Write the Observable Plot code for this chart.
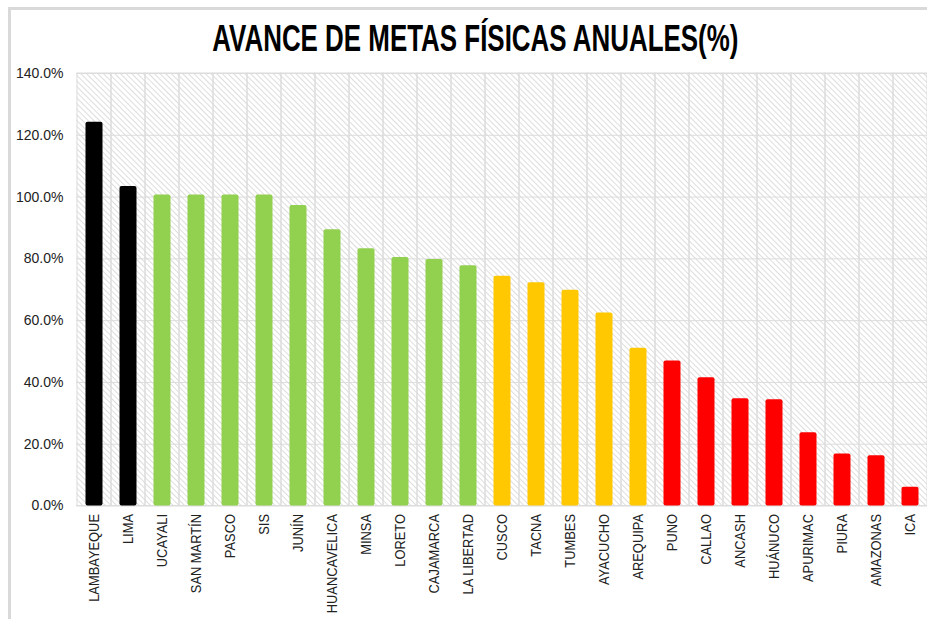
<!DOCTYPE html>
<html>
<head>
<meta charset="utf-8">
<script src="https://cdn.jsdelivr.net/npm/d3@7"></script>
<script src="https://cdn.jsdelivr.net/npm/@observablehq/plot@0.6"></script>
<style>
  html, body { margin: 0; padding: 0; background: #fff; }
  #wrap { position: relative; width: 927px; height: 619px; overflow: hidden; background: #fff; }
  #frame { position: absolute; left: 8px; top: 7px; width: 940px; height: 640px;
           border-left: 3px solid #d9d9d9; border-top: 3px solid #d9d9d9; box-sizing: border-box; }
  #title { position: absolute; left: 0; top: 0; width: 951px; height: 60px; line-height: 78px;
           text-align: center; font-family: "Liberation Sans Narrow", "Arial Narrow", "Liberation Sans", sans-serif;
           font-weight: bold; font-size: 36px; color: #000; white-space: nowrap; }
  #title span { display: inline-block; transform: scaleX(0.72); transform-origin: 50% 50%; }
  #chart { position: absolute; left: 0; top: 60px; }
</style>
</head>
<body>
<div id="wrap">
  <div id="frame"></div>
  <div id="title"><span>AVANCE DE METAS FÍSICAS ANUALES(%)</span></div>
  <div id="chart"></div>
</div>
<script>
const categories = ["LAMBAYEQUE","LIMA","UCAYALI","SAN MARTÍN","PASCO","SIS","JUNÍN","HUANCAVELICA","MINSA","LORETO","CAJAMARCA","LA LIBERTAD","CUSCO","TACNA","TUMBES","AYACUCHO","AREQUIPA","PUNO","CALLAO","ANCASH","HUÁNUCO","APURIMAC","PIURA","AMAZONAS","ICA"];
const values = [124.2,103.4,100.7,100.7,100.7,100.7,97.3,89.4,83.3,80.4,79.8,77.8,74.4,72.3,69.8,62.5,51.1,46.9,41.5,34.7,34.4,23.7,16.8,16.3,6.1];
const groups = ["black","black","green","green","green","green","green","green","green","green","green","green","yellow","yellow","yellow","yellow","yellow","red","red","red","red","red","red","red","red"];
const groupColors = {black: "#000000", green: "#92D050", yellow: "#FFC800", red: "#FF0000"};
const yTicks = [0,20,40,60,80,100,120,140];

const data = categories.map((c, i) => ({cat: c, value: values[i], group: groups[i]}));
const narrow = '"Liberation Sans Narrow", "Arial Narrow", "Liberation Sans", sans-serif';

const plot = Plot.plot({
  width: 927,
  height: 559,
  marginLeft: 76,
  marginRight: 0,
  marginTop: 13,
  marginBottom: 113.5,
  style: {fontFamily: narrow, fontSize: "14px", color: "#222", background: "transparent", overflow: "visible"},
  x: {domain: categories, padding: 0, label: null, axis: null},
  y: {domain: [0, 140], label: null, axis: null},
  marks: [
    Plot.frame({fill: "url(#hatch)", stroke: "none"}),
    Plot.ruleY(yTicks, {stroke: "#dcdcdc", strokeWidth: 1}),
    Plot.barY(categories, {x: d => d, y1: 0, y2: 140, fill: "none", stroke: "#dcdcdc", strokeWidth: 1}),
    Plot.barY(data, {x: "cat", y: "value", fill: d => groupColors[d.group], insetLeft: 8.5, insetRight: 8.5, rx: 2}),
    Plot.axisX({fontSize: 15, tickSize: 0, tickPadding: 8, tickRotate: -90, label: null}),
    Plot.axisY({ticks: yTicks, tickSize: 0, tickPadding: 13, tickFormat: d => d.toFixed(1) + "%", fontSize: 14, label: null})
  ]
});

const defs = d3.select(plot).insert("defs", ":first-child");
const pat = defs.append("pattern").attr("id", "hatch").attr("patternUnits", "userSpaceOnUse")
  .attr("width", 4).attr("height", 4).attr("patternTransform", "rotate(45)");
pat.append("rect").attr("width", 4).attr("height", 4).attr("fill", "#ffffff");
pat.append("line").attr("x1", 0).attr("y1", 0).attr("x2", 4).attr("y2", 0)
  .attr("stroke", "#cfcfcf").attr("stroke-width", 1.4);

// condense the rotated category labels along their reading direction
d3.select(plot).selectAll("text").each(function() {
  const t = this.getAttribute("transform") || "";
  const gt = this.parentNode.getAttribute("transform") || "";
  if (t.includes("rotate") || (gt.includes("rotate") && !t)) {
    this.setAttribute("transform", (t ? t + " " : "") + "scale(0.86,1)");
  }
});

document.getElementById("chart").appendChild(plot);
</script>
</body>
</html>
